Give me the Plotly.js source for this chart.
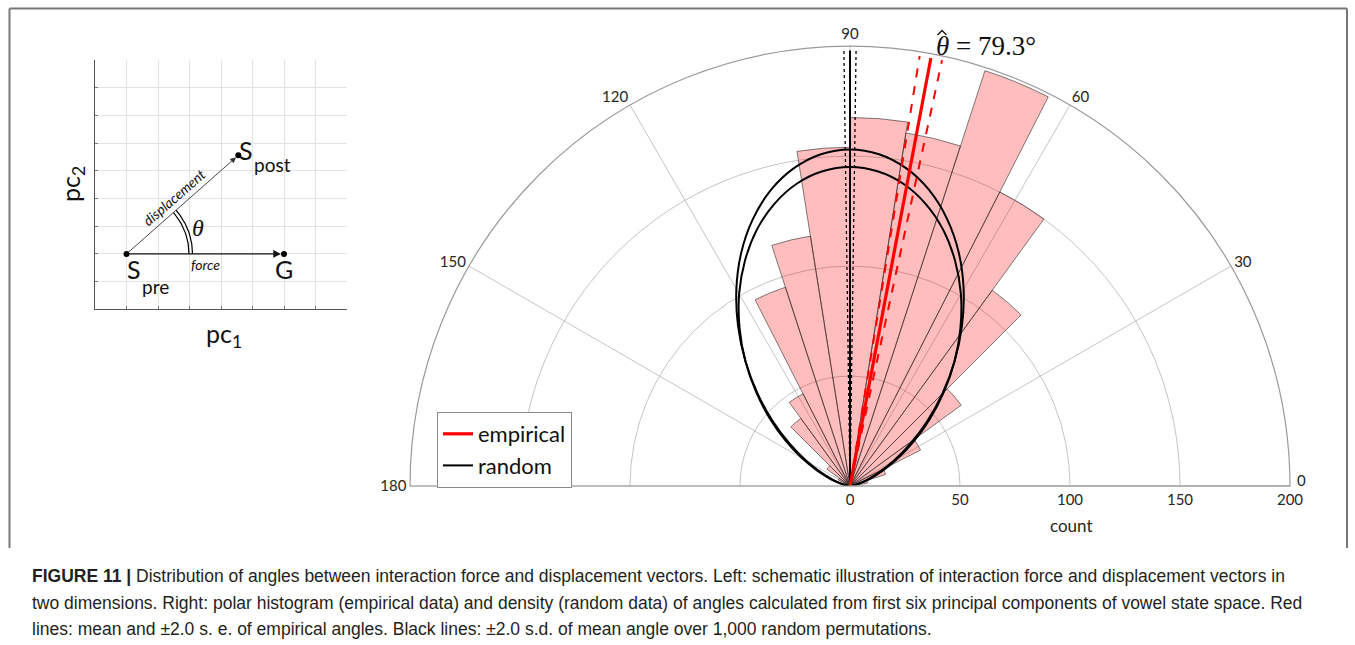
<!DOCTYPE html>
<html>
<head>
<meta charset="utf-8">
<script src="https://cdn.plot.ly/plotly-3.0.1.min.js"></script>
<style>html,body{margin:0;padding:0;background:#fff;}#chart{width:1355px;height:645px;}</style>
</head>
<body>
<div id="chart"></div>
<script>
// ---------- DATA ----------
// Polar histogram (empirical), 9-degree bins
const binCenters = [4.5,13.5,22.5,31.5,40.5,49.5,58.5,67.5,76.5,85.5,94.5,103.5,112.5,121.5,130.5,139.5,148.5,157.5,166.5,175.5];
const binCounts  = [3,8,17,36,62.5,110,150,198.5,162.5,167.5,154,115,95,47,38,13,6,3,1,0];
const binWidth = 9;
// Random-data density curves (two curves)
const densTheta = [0,5,10,15,20,25,30,35,40,45,50,55,60,65,70,75,80,85,90,95,100,105,110,115,120,125,130,135,140,145,150,155,160,165,170,175,180];
const densUpper = [0,0.2,1.3,3.8,8.2,14.6,23.1,33.5,45.8,59.4,73.9,88.7,103.3,117.0,129.1,139.2,146.7,151.4,153,151.4,146.7,139.2,129.1,117.0,103.3,88.7,73.9,59.4,45.8,33.5,23.1,14.6,8.2,3.8,1.3,0.2,0];
const densLower = [0,0.3,1.7,4.7,9.6,16.4,25.1,35.5,47.4,60.3,73.9,87.5,100.8,113.0,123.9,132.8,139.5,143.6,145,143.6,139.5,132.8,123.9,113.0,100.8,87.5,73.9,60.3,47.4,35.5,25.1,16.4,9.6,4.7,1.7,0.3,0];
// Mean angle lines
const empMean = 79.3, empSE2 = 1.5;
const rndMean = 90, rndSD2 = 0.8;
const lineLen = 198;
// Axis ticks
const angTicks = [0,30,60,90,120,150,180];
const angTickText = ['','30','60','90','120','150','180'];
const radTicks = [0,50,100,150,200];
// Schematic points: S_pre, S_post, G
const schemX = [1, 4.55, 6];
const schemY = [2, 5.56, 2];

// ---------- helpers ----------
const W = 1355, H = 645;
const px = v => v / W, py = v => 1 - v / H;

const traces = [];
traces.push({
  type:'barpolar', r: binCounts, theta: binCenters, width: Array(binCounts.length).fill(binWidth),
  marker:{color:'rgba(255,0,0,0.26)', line:{color:'rgba(40,40,40,0.85)', width:0.7}},
  showlegend:false, hoverinfo:'skip', subplot:'polar'
});
[densUpper, densLower].forEach(arr => traces.push({
  type:'scatterpolar', mode:'lines', r: arr, theta: densTheta,
  line:{color:'#000', width:2, shape:'spline'}, showlegend:false, hoverinfo:'skip', subplot:'polar'
}));
traces.push({type:'scatterpolar', mode:'lines', r:[0,lineLen], theta:[rndMean,rndMean], name:'random',
  line:{color:'#000', width:2}, subplot:'polar', legendrank:2});
[rndMean-rndSD2, rndMean+rndSD2].forEach(t => traces.push({type:'scatterpolar', mode:'lines', r:[0,lineLen], theta:[t,t],
  line:{color:'#000', width:1.3, dash:'dot'}, showlegend:false, subplot:'polar'}));
[empMean-empSE2, empMean+empSE2].forEach(t => traces.push({type:'scatterpolar', mode:'lines', r:[0,lineLen], theta:[t,t],
  line:{color:'#ff0000', width:2, dash:'dash'}, showlegend:false, subplot:'polar'}));
traces.push({type:'scatterpolar', mode:'lines', r:[0,lineLen], theta:[empMean,empMean], name:'empirical',
  line:{color:'#ff0000', width:3.2}, subplot:'polar', legendrank:1});

// schematic
const xDom = [px(95), px(347)], yDom = [py(309.3), py(60)];
const ux = (347-95)/8, uy = (309.3-60)/9;
const ang = Math.atan2((schemY[1]-schemY[0])*uy, (schemX[1]-schemX[0])*ux);
[62.5, 66].forEach(rad => {
  const ax = [], ay = [];
  for (let i = 0; i <= 40; i++) {
    const a = ang * i / 40;
    ax.push(schemX[0] + rad*Math.cos(a)/ux);
    ay.push(schemY[0] + rad*Math.sin(a)/uy);
  }
  traces.push({type:'scatter', mode:'lines', x:ax, y:ay, xaxis:'x', yaxis:'y', line:{color:'#000', width:1.2}, showlegend:false, hoverinfo:'skip'});
});
traces.push({type:'scatter', mode:'markers', x:schemX, y:schemY, xaxis:'x', yaxis:'y',
  marker:{color:'#000', size:6}, showlegend:false, hoverinfo:'skip'});

const tickFont = {family:'Lato, Open Sans, sans-serif', size:15, color:'#262626'};
const capFont = {family:'Liberation Sans, Arial, sans-serif', size:17.5, color:'#231f20'};

function lbl(x, y, text, font, extra) {
  return Object.assign({x:px(x), y:py(y), xref:'paper', yref:'paper', xanchor:'center', yanchor:'middle',
    text:text, showarrow:false, font:font}, extra || {});
}
const lab = s => ({family:'Lato, sans-serif', size:s, color:'#111'});

const annotations = [
  {x:schemX[1], y:schemY[1], ax:schemX[0], ay:schemY[0], xref:'x', yref:'y', axref:'x', ayref:'y', text:'', showarrow:true,
   arrowhead:2, arrowsize:1.3, arrowwidth:0.9, arrowcolor:'#333', standoff:3},
  {x:schemX[2], y:schemY[2], ax:schemX[0], ay:schemY[0], xref:'x', yref:'y', axref:'x', ayref:'y', text:'', showarrow:true,
   arrowhead:2, arrowsize:1.1, arrowwidth:1.4, arrowcolor:'#111', standoff:3},
  lbl(134, 269, 'S', lab(25)),
  lbl(155, 286, 'pre', lab(19)),
  lbl(246, 150, 'S', lab(25)),
  lbl(272, 164, 'post', lab(19)),
  lbl(284, 269, 'G', lab(25)),
  lbl(205, 264, '<i>force</i>', lab(14)),
  lbl(174, 198, '<i>displacement</i>', lab(14), {textangle:-41}),
  lbl(198, 228, '<i>θ</i>', {family:'Liberation Serif, serif', size:24, color:'#111'}),
  lbl(72, 184, 'pc<sub>2</sub>', lab(25), {textangle:-90}),
  lbl(224, 335, 'pc<sub>1</sub>', lab(25)),
  // polar extras
  lbl(986, 46, '<i>θ</i> = 79.3°', {family:'Liberation Serif, serif', size:27, color:'#111'}),
  lbl(1301, 480, '0', tickFont),
  lbl(1071, 525, 'count', {family:'Lato, sans-serif', size:17, color:'#262626'}),
  // caption
  lbl(30, 576, '<b>FIGURE 11 |</b> Distribution of angles between interaction force and displacement vectors. Left: schematic illustration of interaction force and displacement vectors in', capFont, {xanchor:'left', align:'left'}),
  lbl(30, 603, 'two dimensions. Right: polar histogram (empirical data) and density (random data) of angles calculated from first six principal components of vowel state space. Red', capFont, {xanchor:'left', align:'left'}),
  lbl(30, 629, 'lines: mean and ±2.0 s. e. of empirical angles. Black lines: ±2.0 s.d. of mean angle over 1,000 random permutations.', capFont, {xanchor:'left', align:'left'})
];

const shapes = [
  {type:'line', xref:'paper', yref:'paper', x0:px(9.5), x1:px(1347), y0:py(8.5), y1:py(8.5), line:{color:'#777', width:2}},
  {type:'line', xref:'paper', yref:'paper', x0:px(9.5), x1:px(9.5), y0:py(8.5), y1:py(548), line:{color:'#777', width:2}},
  {type:'line', xref:'paper', yref:'paper', x0:px(1347), x1:px(1347), y0:py(8.5), y1:py(548), line:{color:'#777', width:2}},
  // hat over theta-hat label
  {type:'path', xref:'paper', yref:'paper', path:`M ${px(937.5)} ${py(35)} L ${px(942)} ${py(30.5)} L ${px(946.5)} ${py(35)}`,
   line:{color:'#111', width:1.3}}
];

const layout = {
  width:W, height:H, margin:{l:0,r:0,t:0,b:0}, paper_bgcolor:'#fff', plot_bgcolor:'#fff',
  font: tickFont,
  polar:{
    domain:{x:[px(410), px(1290)], y:[py(486), py(46)]},
    sector:[0,180], bgcolor:'#fff', hole:0,
    angularaxis:{rotation:0, direction:'counterclockwise', tickmode:'array', tickvals:angTicks, ticktext:angTickText,
      showline:true, linecolor:'#9a9a9a', linewidth:1.2, gridcolor:'#c4c4c4', gridwidth:1, ticks:'', tickfont:tickFont},
    radialaxis:{range:[0,200], tickmode:'array', tickvals:radTicks, angle:0, side:'clockwise', showline:true,
      linecolor:'#a8a8a8', gridcolor:'#c4c4c4', gridwidth:1, ticks:'', tickfont:tickFont, tickangle:0}
  },
  xaxis:{domain:xDom, range:[0,8], dtick:1, showgrid:true, gridcolor:'#e3e3e3', zeroline:false, showline:true, linecolor:'#555',
    ticks:'inside', ticklen:3, tickcolor:'#777', showticklabels:false, fixedrange:true, anchor:'y'},
  yaxis:{domain:yDom, range:[0,9], dtick:1, showgrid:true, gridcolor:'#e3e3e3', zeroline:false, showline:true, linecolor:'#555',
    ticks:'inside', ticklen:3, tickcolor:'#777', showticklabels:false, fixedrange:true, anchor:'x'},
  showlegend:true,
  legend:{x:px(437), y:py(412), xanchor:'left', yanchor:'top', bgcolor:'#fff', bordercolor:'#8a8a8a', borderwidth:1,
    font:{family:'Lato, sans-serif', size:22, color:'#111'}, itemwidth:30, tracegroupgap:0},
  annotations: annotations, shapes: shapes
};

Plotly.newPlot('chart', traces, layout, {displayModeBar:false, staticPlot:true});
</script>
</body>
</html>
